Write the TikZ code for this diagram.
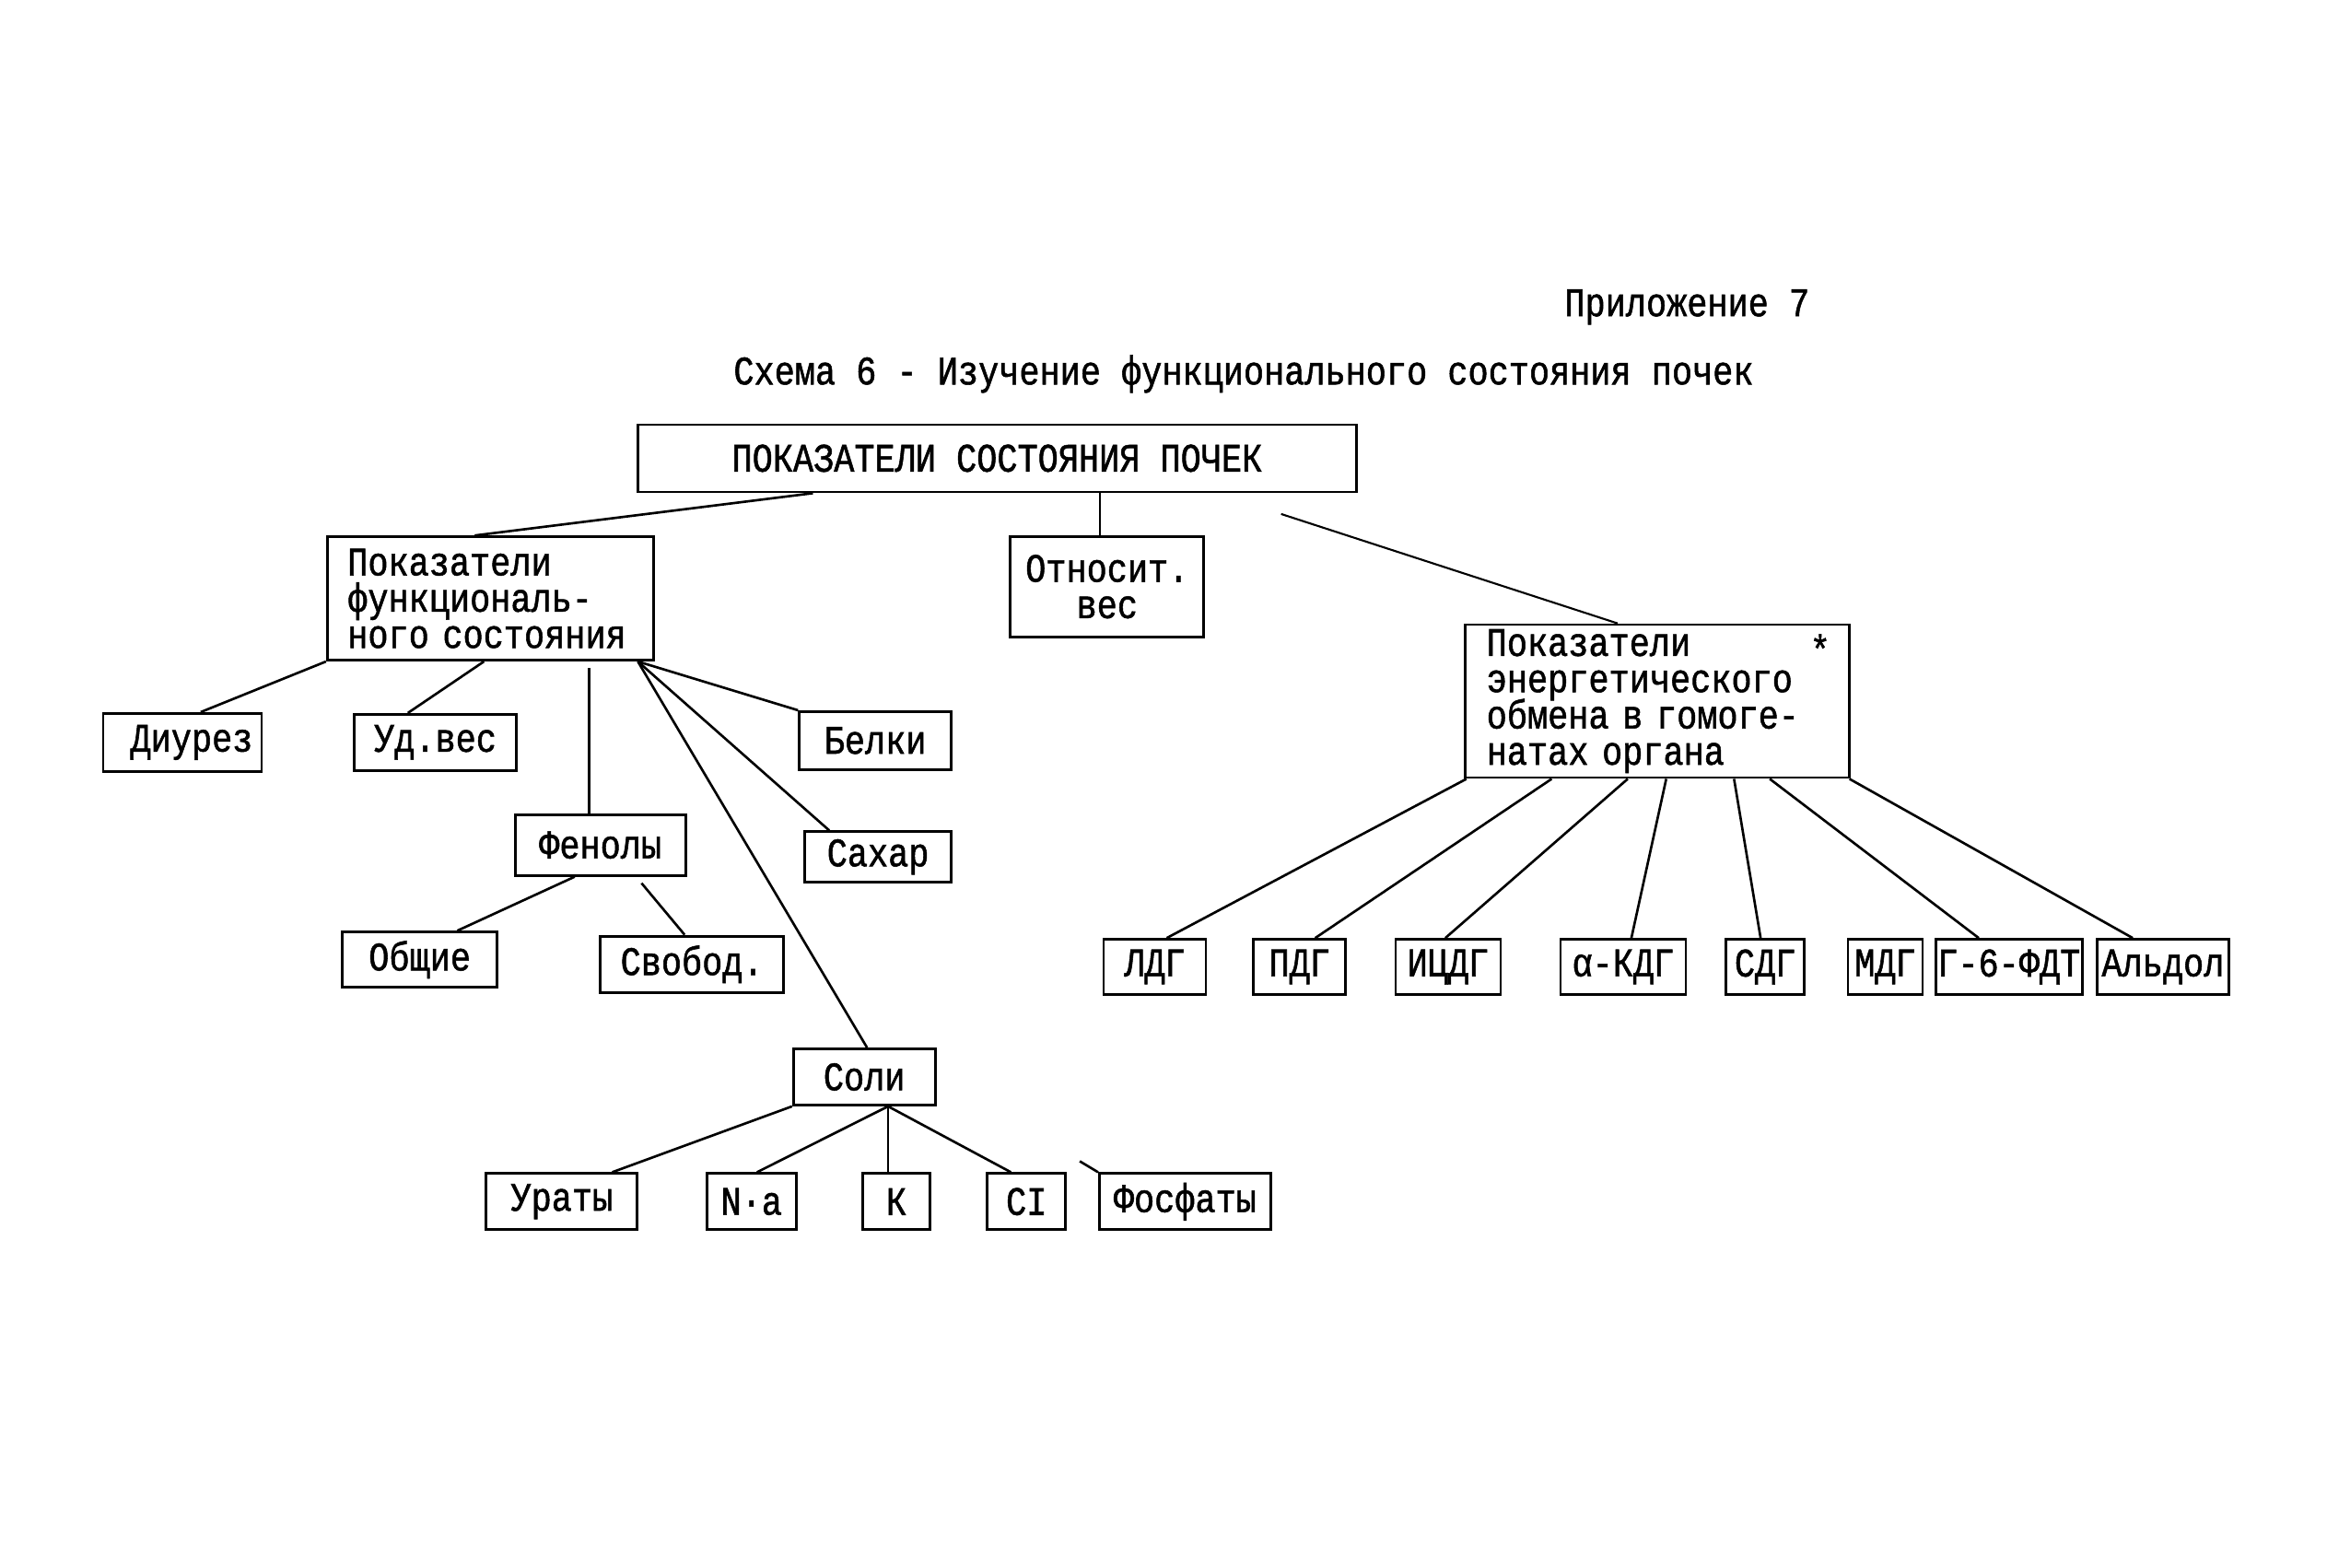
\documentclass[tikz,border=0pt]{standalone}
\usepackage{fontspec}
\setmainfont{Liberation Mono}[FakeStretch=0.84,FakeBold=1.2]
\usetikzlibrary{calc}
\newcommand\typefont{\fontsize{12.5}{11.2}\selectfont\lineskiplimit=-20pt}
\begin{document}
\begin{tikzpicture}[x=0.00995cm, y=-0.00995cm, font=\typefont,
    box/.style={draw, line width=0.8pt, inner sep=0pt, align=center},
    link/.style={line width=0.75pt}]
  \useasboundingbox (0,0) rectangle (2539,1710);

  % titles
  \node[anchor=east, inner sep=0pt] (app) at (1975,335) {Приложение 7};
  \node[inner sep=0pt] (title) at (1357,408) {Схема 6 - Изучение функционального состояния почек};

  % top level
  \node[box, minimum width=7.8cm, minimum height=0.73cm] (root) at (1088,500) {ПОКАЗАТЕЛИ СОСТОЯНИЯ ПОЧЕК};
  \node[box, text width=3.1cm, align=left, inner xsep=0.22cm, minimum height=1.34cm] (funk) at (535,653)
    {Показатели\\функциональ-\\ного состояния};
  \node[box, minimum width=2.1cm, minimum height=1.09cm] (otn) at (1208,640) {Относит.\\вес};
  \node[box, text width=3.7cm, align=left, inner xsep=0.235cm, minimum height=1.66cm] (energy) at (1808,765)
    {Показатели\\энергетического\\обмена в гомоге-\\натах органа};
  \node[inner sep=0pt] (ast) at (1986,708) {*};

  \draw[link] ($(root.south)+(-201,0)$) -- ($(funk.north)+(-17,0)$);
  \draw[link] ($(root.south)+(112,0)$) -- ($(otn.north)+(-8,0)$);
  \draw[line width=0.6pt, shorten <=0.73cm] ($(root.south)+(240,0)$) -- ($(energy.north)+(-43,0)$);

  % functional indicators
  \node[box, minimum width=1.72cm, minimum height=0.63cm] (diurez) at (199,810) {\hspace{0.2cm}Диурез};
  \node[box, minimum width=1.76cm, minimum height=0.61cm] (udves) at (475,810) {Уд.вес};
  \node[box, minimum width=1.85cm, minimum height=0.66cm] (fenol) at (655,922) {Фенолы};
  \node[box, minimum width=1.65cm, minimum height=0.63cm] (belki) at (955,808) {Белки};
  \node[box, minimum width=1.59cm, minimum height=0.55cm] (sahar) at (958,935) {Сахар};
  \node[box, minimum width=1.54cm, minimum height=0.61cm] (soli) at (943,1175) {Соли};
  \node[box, minimum width=1.68cm, minimum height=0.60cm] (obsh) at (458,1047) {Общие};
  \node[box, minimum width=1.99cm, minimum height=0.61cm] (svob) at (755,1052) {Свобод.};

  \coordinate (fk) at ($(funk.south)+(161,0)$);
  \draw[link] (funk.south west) -- ($(diurez.north)+(20,0)$);
  \draw[link] ($(funk.south)+(-7,0)$) -- ($(udves.north)+(-30,0)$);
  \draw[link] ($(funk.south)+(108,7)$) -- ($(fenol.north)+(-12,0)$);
  \draw[link] (fk) -- (belki.north west);
  \draw[link] (fk) -- ($(sahar.north west)+(28,0)$);
  \draw[link] (fk) -- ($(soli.north)+(3,0)$);
  \draw[link] ($(fenol.south)+(-28,0)$) -- ($(obsh.north)+(41,0)$);
  \draw[link] ($(fenol.south)+(45,7)$) -- ($(svob.north)+(-8,0)$);

  % salts
  \node[box, minimum width=1.64cm, minimum height=0.61cm] (urat) at (613,1311) {Ураты};
  \node[box, minimum width=0.97cm, minimum height=0.61cm] (natr) at (820,1311) {N·a};
  \node[box, minimum width=0.73cm, minimum height=0.61cm] (kal) at (978,1311) {К};
  \node[box, minimum width=0.85cm, minimum height=0.61cm] (hlor) at (1120,1311) {CI};
  \node[box, minimum width=1.86cm, minimum height=0.61cm] (fosf) at (1293,1311) {Фосфаты};

  \coordinate (sk) at ($(soli.south)+(26,0)$);
  \draw[link] (soli.south west) -- ($(urat.north)+(55,0)$);
  \draw[link] (sk) -- ($(natr.north)+(6,0)$);
  \draw[link] (sk) -- (kal.north -| sk);
  \draw[link] (sk) -- ($(hlor.north)+(-17,0)$);
  \draw[link] (fosf.north west) -- ++(-20,-12);

  % enzymes
  \node[box, minimum width=1.11cm, minimum height=0.60cm] (ldg) at (1260,1055) {ЛДГ};
  \node[box, minimum width=1.00cm, minimum height=0.60cm] (pdg) at (1418,1055) {ПДГ};
  \node[box, minimum width=1.14cm, minimum height=0.60cm] (icdg) at (1580,1055) {ИЦДГ};
  \node[box, minimum width=1.36cm, minimum height=0.60cm] (akdg) at (1771,1055) {α-КДГ};
  \node[box, minimum width=0.85cm, minimum height=0.60cm] (sdg) at (1926,1055) {СДГ};
  \node[box, minimum width=0.81cm, minimum height=0.60cm] (mdg) at (2057,1055) {МДГ};
  \node[box, minimum width=1.59cm, minimum height=0.60cm] (gfdt) at (2192,1055) {Г-6-ФДТ};
  \node[box, minimum width=1.43cm, minimum height=0.60cm] (aldol) at (2360,1055) {Альдол};

  \foreach \s/\n/\e in {-208/ldg/13, -115/pdg/17, -32/icdg/-3, 10/akdg/9, 84/sdg/-5, 123/gfdt/-33, 210/aldol/-33}
    \draw[link] ($(energy.south)+(\s,0)$) -- ($(\n.north)+(\e,0)$);
\end{tikzpicture}
\end{document}
